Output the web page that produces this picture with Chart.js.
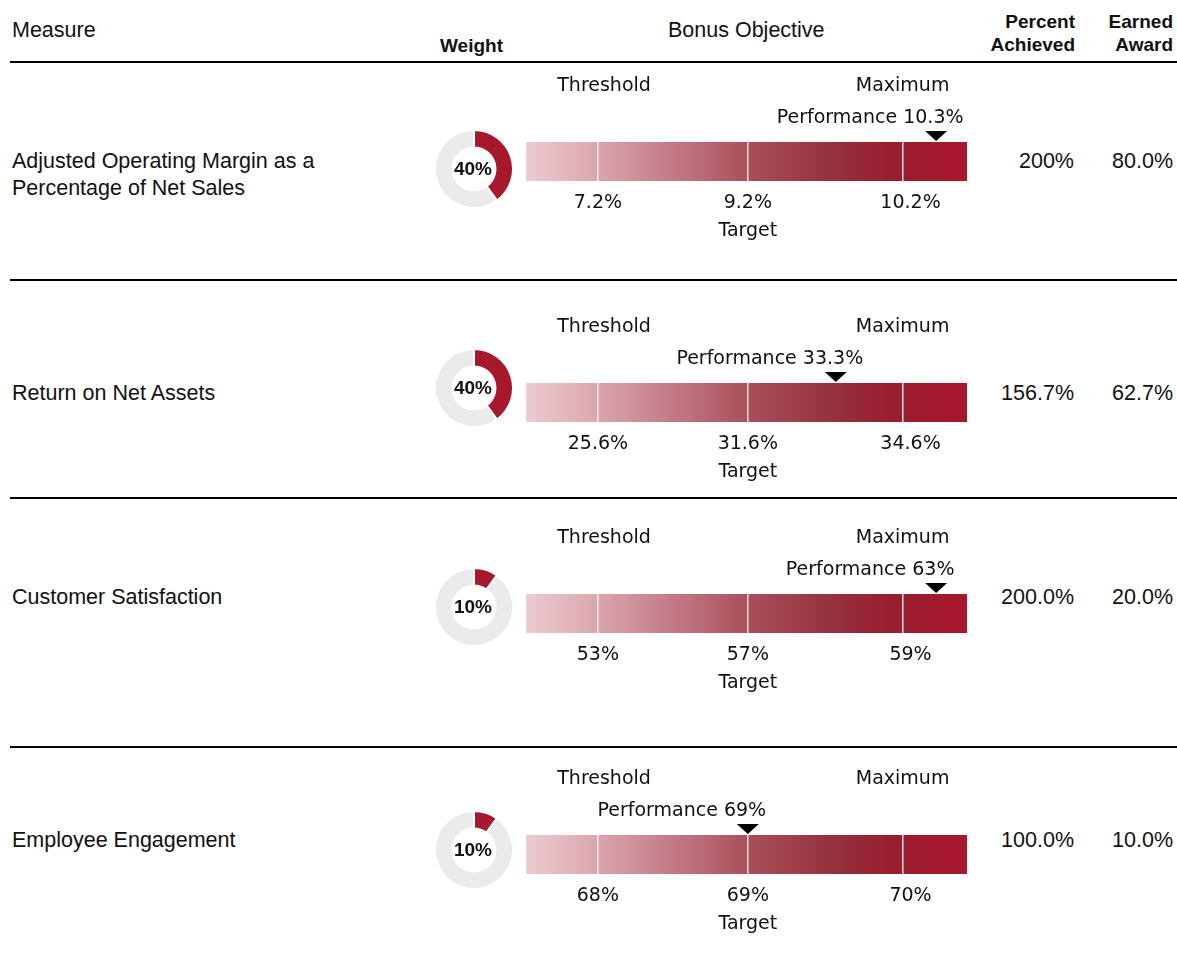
<!DOCTYPE html>
<html>
<head>
<meta charset="utf-8">
<title>Bonus Objectives</title>
<script src="https://cdn.jsdelivr.net/npm/chart.js@4.4.1/dist/chart.umd.min.js"></script>
<style>
  body { margin: 0; background: #fff; }
  #page { position: relative; width: 1177px; height: 962px; font-family: "Liberation Sans", Arial, sans-serif; color: #111; overflow: hidden; }
  .t { position: absolute; white-space: nowrap; font-size: 21.5px; }
  .hb { position: absolute; font-weight: bold; font-size: 19px; line-height: 23px; text-align: right; }
  .rule { position: absolute; left: 10px; width: 1167px; background: #000; }
  .measure { position: absolute; left: 12px; width: 330px; height: 80px; display: flex; align-items: center; font-size: 21.5px; line-height: 27px; }
  canvas { position: absolute; }
</style>
</head>
<body>
<div id="page">
  <div class="t" style="left:12px; top:18px;">Measure</div>
  <div class="t" style="left:440px; top:35px; font-weight:bold; font-size:19px;">Weight</div>
  <div class="t" style="left:668px; top:18px;">Bonus Objective</div>
  <div class="hb" style="right:102px; top:10px;">Percent<br>Achieved</div>
  <div class="hb" style="right:4px; top:10px;">Earned<br>Award</div>
</div>
<script>
// data
const measures = ['Adjusted Operating Margin as a Percentage of Net Sales', 'Return on Net Assets', 'Customer Satisfaction', 'Employee Engagement'];
const weights = [40, 40, 10, 10];
const thresholds = [7.2, 25.6, 53, 68];
const targets = [9.2, 31.6, 57, 69];
const maximums = [10.2, 34.6, 59, 70];
const performance = [10.3, 33.3, 63, 69];
const decimals = [1, 1, 0, 0];
const percentAchieved = ['200%', '156.7%', '200.0%', '100.0%'];
const earnedAward = ['80.0%', '62.7%', '20.0%', '10.0%'];

// layout (pixels / axis units)
const rowRules = [280, 498, 747];
const barTop = [142, 383, 594, 835];
const measureY = [174.5, 393, 597, 840];
const valueY = [161, 393, 597, 840];
const donutY = [169, 388, 607, 850];
const LEVEL_POS = [16.3, 50.3, 85.5];   // threshold / target / maximum dividers
const OVER_POS = 93;                    // marker spot when above maximum
const BOTTOM_LABEL_POS = [16.3, 50.3, 87.2];
const TOP_LABEL_POS = [17.7, 85.4];

const RED = '#a8182d';
const BAR_FONT = '"DejaVu Sans", "Noto Sans", sans-serif';
const page = document.getElementById('page');

function el(tag, cls, style, html) {
  const e = document.createElement(tag);
  if (cls) e.className = cls;
  Object.assign(e.style, style);
  if (html !== undefined) e.innerHTML = html;
  page.appendChild(e);
  return e;
}

function fmt(v, i) { return v.toFixed(decimals[i]) + '%'; }

function perfPos(i) {
  const v = performance[i];
  const lv = [thresholds[i], targets[i], maximums[i]];
  if (v > lv[2]) return OVER_POS;
  if (v <= lv[0]) return LEVEL_POS[0];
  for (let k = 0; k < 2; k++) {
    if (v <= lv[k + 1]) {
      const f = (v - lv[k]) / (lv[k + 1] - lv[k]);
      return LEVEL_POS[k] + f * (LEVEL_POS[k + 1] - LEVEL_POS[k]);
    }
  }
  return LEVEL_POS[2];
}

function barGradient(ctx) {
  const chart = ctx.chart;
  const a = chart.chartArea;
  if (!a) return RED;
  const g = chart.ctx.createLinearGradient(a.left, 0, a.right, 0);
  g.addColorStop(0, '#ecccd1');
  g.addColorStop(0.16, '#dba6ae');
  g.addColorStop(0.35, '#bf7681');
  g.addColorStop(0.5, '#a9505b');
  g.addColorStop(0.7, '#95303e');
  g.addColorStop(0.85, '#9a1b2e');
  g.addColorStop(1, '#a8172c');
  return g;
}

function markerPlugin(i) {
  return {
    id: 'marker' + i,
    afterDraw(chart) {
      const c = chart.ctx;
      const top = chart.chartArea.top;
      const x = chart.scales.x.getPixelForValue(perfPos(i));
      c.save();
      c.fillStyle = '#000';
      c.beginPath();
      c.moveTo(x - 11, top - 11);
      c.lineTo(x + 11, top - 11);
      c.lineTo(x, top - 1);
      c.closePath();
      c.fill();
      c.font = '19px ' + BAR_FONT;
      c.fillStyle = '#111';
      c.textAlign = 'center';
      c.textBaseline = 'middle';
      c.fillText('Performance ' + fmt(performance[i], i), x - 66, top - 24);
      c.restore();
    }
  };
}

function centerText(i) {
  return {
    id: 'center' + i,
    afterDraw(chart) {
      const m = chart.getDatasetMeta(0).data[0];
      const c = chart.ctx;
      c.save();
      c.font = 'bold 19px "Liberation Sans", Arial, sans-serif';
      c.fillStyle = '#111';
      c.textAlign = 'center';
      c.textBaseline = 'middle';
      c.fillText(weights[i] + '%', m.x - 1, m.y + 1);
      c.restore();
    }
  };
}

// rules
el('div', 'rule', { top: '61px', height: '2px' });
rowRules.forEach(y => el('div', 'rule', { top: (y - 0.75) + 'px', height: '1.5px' }));

const tickFont = { family: BAR_FONT, size: 19, lineHeight: 1.47 };

measures.forEach((m, i) => {
  el('div', 'measure', { top: (measureY[i] - 40) + 'px' }, m);
  el('div', 't', { right: '103px', top: (valueY[i] - 12.5) + 'px' }, percentAchieved[i]);
  el('div', 't', { right: '4px', top: (valueY[i] - 12.5) + 'px' }, earnedAward[i]);

  // weight donut
  const dc = el('canvas', null, { left: '434px', top: (donutY[i] - 40) + 'px' });
  dc.width = 80; dc.height = 80;
  new Chart(dc, {
    type: 'doughnut',
    data: {
      labels: ['Weight', 'Other'],
      datasets: [{
        data: [weights[i], 100 - weights[i]],
        backgroundColor: [RED, '#ebebeb'],
        borderColor: '#fff',
        borderWidth: 2
      }]
    },
    options: {
      responsive: false,
      animation: false,
      cutout: '55%',
      plugins: { legend: { display: false }, tooltip: { enabled: false } }
    },
    plugins: [centerText(i)]
  });

  // objective bar
  const bc = el('canvas', null, { left: '500px', top: (barTop[i] - 75) + 'px' });
  bc.width = 500; bc.height = 190;
  const levels = [thresholds[i], targets[i], maximums[i]];
  new Chart(bc, {
    type: 'bar',
    data: {
      labels: [''],
      datasets: [{
        data: [100],
        backgroundColor: barGradient,
        borderWidth: 0,
        barPercentage: 1,
        categoryPercentage: 1
      }]
    },
    options: {
      indexAxis: 'y',
      responsive: false,
      animation: false,
      layout: { padding: { left: 26, right: 33, top: 0, bottom: 0 } },
      plugins: { legend: { display: false }, tooltip: { enabled: false } },
      scales: {
        y: { display: false },
        x: {
          min: 0, max: 100, position: 'bottom',
          grid: { z: 1, color: 'rgba(255,255,255,0.85)', lineWidth: 1.5, drawTicks: false },
          border: { display: false },
          ticks: { display: false },
          afterBuildTicks: s => { s.ticks = LEVEL_POS.map(v => ({ value: v })); },
          afterFit: s => { s.height = 0; }
        },
        xb: {
          type: 'linear', axis: 'x', min: 0, max: 100, position: 'bottom',
          grid: { display: false, drawTicks: false },
          border: { display: false },
          ticks: {
            font: tickFont, color: '#111', padding: 8, maxRotation: 0, autoSkip: false,
            callback: (v, k) => k === 1 ? [fmt(levels[k], i), 'Target'] : fmt(levels[k], i)
          },
          afterBuildTicks: s => { s.ticks = BOTTOM_LABEL_POS.map(v => ({ value: v })); },
          afterFit: s => { s.height = 76; }
        },
        xt: {
          type: 'linear', axis: 'x', min: 0, max: 100, position: 'top',
          grid: { display: false, drawTicks: false },
          border: { display: false },
          ticks: {
            font: tickFont, color: '#111', padding: 42, maxRotation: 0, autoSkip: false,
            callback: (v, k) => ['Threshold', 'Maximum'][k]
          },
          afterBuildTicks: s => { s.ticks = TOP_LABEL_POS.map(v => ({ value: v })); },
          afterFit: s => { s.height = 75; }
        }
      }
    },
    plugins: [markerPlugin(i)]
  });
});
</script>
</body>
</html>
